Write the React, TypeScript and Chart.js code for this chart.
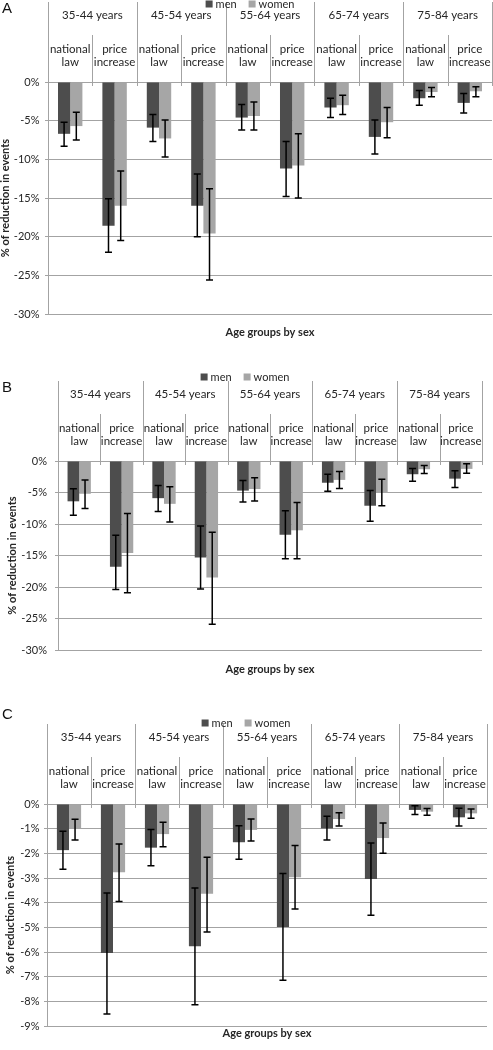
import React, { useEffect, useRef } from 'react';
import { Chart, registerables } from 'chart.js';

Chart.register(...registerables);

// ---------- DATA ----------
const ageGroups = ['35-44 years', '45-54 years', '55-64 years', '65-74 years', '75-84 years'];
const measureLines = [['national', 'law'], ['price', 'increase']];
const categories = ageGroups.flatMap((g) => measureLines.map((m) => `${g} ${m.join(' ')}`));
const seriesNames = ['men', 'women'];

// Panel A (% of reduction in events)
const menA = [-6.7, -18.6, -5.9, -16.0, -4.6, -11.2, -3.3, -7.1, -2.1, -2.7];
const menALow = [-8.3, -22.0, -7.7, -20.0, -6.2, -14.8, -4.6, -9.3, -3.0, -4.0];
const menAHigh = [-5.2, -15.1, -4.2, -11.9, -2.9, -7.7, -2.1, -4.9, -1.1, -1.5];
const womenA = [-5.7, -16.0, -7.3, -19.6, -4.4, -10.8, -3.0, -5.2, -1.3, -1.2];
const womenALow = [-7.5, -20.5, -9.7, -25.6, -6.2, -15.0, -4.2, -7.2, -1.9, -1.9];
const womenAHigh = [-3.9, -11.5, -4.9, -13.8, -2.6, -6.7, -1.7, -3.3, -0.7, -0.6];

// Panel B
const menB = [-6.4, -16.8, -5.9, -15.3, -4.7, -11.7, -3.45, -7.1, -2.1, -2.8];
const menBLow = [-8.6, -20.4, -8.0, -20.3, -6.5, -15.5, -4.8, -9.55, -3.2, -4.2];
const menBHigh = [-4.4, -11.8, -3.9, -10.3, -3.1, -7.9, -2.1, -4.7, -1.2, -1.55];
const womenB = [-5.2, -14.6, -6.8, -18.5, -4.45, -11.0, -3.0, -5.0, -1.3, -1.25];
const womenBLow = [-7.55, -20.9, -9.7, -25.9, -6.35, -15.5, -4.35, -7.1, -2.0, -1.95];
const womenBHigh = [-3.0, -8.35, -4.1, -11.3, -2.65, -6.6, -1.65, -2.9, -0.7, -0.45];

// Panel C
const menC = [-1.87, -6.04, -1.77, -5.77, -1.55, -4.99, -0.99, -3.04, -0.24, -0.54];
const menCLow = [-2.65, -8.51, -2.5, -8.14, -2.24, -7.15, -1.46, -4.51, -0.43, -0.89];
const menCHigh = [-1.1, -3.61, -1.03, -3.41, -0.88, -2.82, -0.5, -1.58, -0.07, -0.17];
const womenC = [-0.99, -2.77, -1.22, -3.64, -1.05, -2.97, -0.61, -1.38, -0.31, -0.38];
const womenCLow = [-1.46, -3.95, -1.73, -5.19, -1.5, -4.26, -0.89, -2.0, -0.46, -0.58];
const womenCHigh = [-0.62, -1.62, -0.74, -2.16, -0.61, -1.68, -0.35, -0.77, -0.18, -0.2];

const yTitle = '% of reduction in events';
const xTitle = 'Age groups by sex';

// ---------- STYLE / LAYOUT ----------
const MEN_COLOR = '#4d4d4d';
const WOMEN_COLOR = '#a6a6a6';
const GRID_COLOR = '#a3a3a3';
const TEXT_COLOR = '#262626';
const FONT = 'Lato, "Open Sans", sans-serif';

type PanelCfg = {
  letter: string;
  men: number[]; menLow: number[]; menHigh: number[];
  women: number[]; womenLow: number[]; womenHigh: number[];
  yMin: number; yStep: number;
  top: number; height: number; plotTop: number; xbHeight: number;
  yWidth: number; rightPad: number; tickPad: number; yTitlePad: number;
  legendDy: number; legendCx: number; letterTop: number;
};

const panels: PanelCfg[] = [
  {
    letter: 'A', men: menA, menLow: menALow, menHigh: menAHigh,
    women: womenA, womenLow: womenALow, womenHigh: womenAHigh,
    yMin: -30, yStep: 5,
    top: 0, height: 345, plotTop: 82, xbHeight: 31,
    yWidth: 48, rightPad: 1, tickPad: 5.5, yTitlePad: -1.6,
    legendDy: -78, legendCx: 250, letterTop: 0,
  },
  {
    letter: 'B', men: menB, menLow: menBLow, menHigh: menBHigh,
    women: womenB, womenLow: womenBLow, womenHigh: womenBHigh,
    yMin: -30, yStep: 5,
    top: 350, height: 332, plotTop: 111, xbHeight: 32,
    yWidth: 58, rightPad: 11, tickPad: 8, yTitlePad: 5.9,
    legendDy: -84, legendCx: 245, letterTop: 379,
  },
  {
    letter: 'C', men: menC, menLow: menCLow, menHigh: menCHigh,
    women: womenC, womenLow: womenCLow, womenHigh: womenCHigh,
    yMin: -9, yStep: 1,
    top: 700, height: 346, plotTop: 104, xbHeight: 20,
    yWidth: 47, rightPad: 6, tickPad: 4.5, yTitlePad: 4.2,
    legendDy: -81, legendCx: 246, letterTop: 706,
  },
];

// ---------- PLUGINS ----------
const headerPlugin = {
  id: 'header',
  afterDraw(chart: any, _args: any, opts: any) {
    const { ctx, chartArea } = chart;
    const { left, right, top } = chartArea;
    const xs = chart.scales.x;
    const n = chart.data.labels.length;
    const catW = (right - left) / n;
    ctx.save();
    // separator lines
    ctx.strokeStyle = GRID_COLOR;
    ctx.lineWidth = 1;
    for (let i = 0; i <= n; i++) {
      const px = Math.round(left + i * catW) + 0.5;
      const y0 = i % 2 === 0 ? top - 80 : top - 47;
      ctx.beginPath();
      ctx.moveTo(px, y0);
      ctx.lineTo(px, top + 4);
      ctx.stroke();
    }
    // text
    ctx.fillStyle = TEXT_COLOR;
    ctx.textAlign = 'center';
    ctx.textBaseline = 'middle';
    ctx.font = `11.5px ${FONT}`;
    ageGroups.forEach((g, k) => {
      const cx = (xs.getPixelForValue(2 * k) + xs.getPixelForValue(2 * k + 1)) / 2;
      ctx.fillText(g, cx, top - 66.5);
    });
    for (let i = 0; i < n; i++) {
      const cx = xs.getPixelForValue(i);
      const lines = measureLines[i % 2];
      ctx.fillText(lines[0], cx, top - 33);
      ctx.fillText(lines[1], cx, top - 19.5);
    }
    // legend
    ctx.font = `11px ${FONT}`;
    const items = chart.data.datasets.map((d: any) => ({ label: d.label, color: d.backgroundColor }));
    const box = 7, gap = 3, sep = 12;
    const widths = items.map((it: any) => box + gap + ctx.measureText(it.label).width);
    const total = widths.reduce((a: number, b: number) => a + b, 0) + sep * (items.length - 1);
    let x = opts.legendCx - total / 2;
    const ly = top + opts.legendDy;
    ctx.textAlign = 'left';
    items.forEach((it: any, k: number) => {
      ctx.fillStyle = it.color;
      ctx.fillRect(x, ly - box / 2, box, box);
      ctx.fillStyle = TEXT_COLOR;
      ctx.fillText(it.label, x + box + gap, ly + 0.5);
      x += widths[k] + sep;
    });
    ctx.restore();
  },
};

const errorBarPlugin = {
  id: 'errorBars',
  afterDatasetsDraw(chart: any) {
    const { ctx } = chart;
    const ys = chart.scales.y;
    ctx.save();
    ctx.strokeStyle = '#000';
    chart.data.datasets.forEach((ds: any, di: number) => {
      const meta = chart.getDatasetMeta(di);
      meta.data.forEach((bar: any, i: number) => {
        const y1 = ys.getPixelForValue(ds.errLow[i]);
        const y2 = ys.getPixelForValue(ds.errHigh[i]);
        const x = bar.x;
        ctx.lineWidth = 1.5;
        ctx.beginPath();
        ctx.moveTo(x, y1);
        ctx.lineTo(x, y2);
        ctx.stroke();
        ctx.lineWidth = 1.5;
        ctx.beginPath();
        ctx.moveTo(x - 3.5, y1);
        ctx.lineTo(x + 3.5, y1);
        ctx.moveTo(x - 3.5, y2);
        ctx.lineTo(x + 3.5, y2);
        ctx.stroke();
      });
    });
    ctx.restore();
  },
};

// ---------- COMPONENTS ----------
function Panel({ cfg }: { cfg: PanelCfg }) {
  const ref = useRef<HTMLCanvasElement | null>(null);
  useEffect(() => {
    if (!ref.current) return;
    const chart = new Chart(ref.current, {
      type: 'bar',
      data: {
        labels: categories,
        datasets: [
          {
            label: seriesNames[0], data: cfg.men, backgroundColor: MEN_COLOR,
            errLow: cfg.menLow, errHigh: cfg.menHigh,
            categoryPercentage: 0.55, barPercentage: 1, borderWidth: 0,
          } as any,
          {
            label: seriesNames[1], data: cfg.women, backgroundColor: WOMEN_COLOR,
            errLow: cfg.womenLow, errHigh: cfg.womenHigh,
            categoryPercentage: 0.55, barPercentage: 1, borderWidth: 0,
          } as any,
        ],
      },
      options: {
        responsive: false,
        animation: false,
        devicePixelRatio: 1,
        layout: { padding: { left: 0, right: cfg.rightPad, top: 0, bottom: 0 } },
        plugins: {
          legend: { display: false },
          tooltip: { enabled: false },
          header: { legendDy: cfg.legendDy, legendCx: cfg.legendCx },
        } as any,
        scales: {
          x: {
            type: 'category',
            position: 'top',
            offset: true,
            ticks: { display: false },
            grid: { display: false },
            border: { display: false },
            afterFit: (s: any) => { s.height = cfg.plotTop; },
          },
          xb: {
            type: 'category',
            axis: 'x',
            position: 'bottom',
            offset: true,
            ticks: { display: false },
            grid: { display: false },
            border: { display: false },
            title: {
              display: true, text: xTitle, color: TEXT_COLOR,
              font: { family: FONT, size: 11, weight: 'bold' },
              padding: { top: 0, bottom: 6.4 },
            },
            afterFit: (s: any) => { s.height = cfg.xbHeight; },
          },
          y: {
            type: 'linear',
            min: cfg.yMin,
            max: 0,
            ticks: {
              stepSize: cfg.yStep,
              color: TEXT_COLOR,
              font: { family: FONT, size: 11 },
              padding: cfg.tickPad,
              callback: (v: any) => `${v}%`,
            },
            grid: { color: GRID_COLOR, lineWidth: 1, tickLength: 3 },
            border: { display: true, color: GRID_COLOR, width: 1 },
            title: {
              display: true, text: yTitle, color: TEXT_COLOR,
              font: { family: FONT, size: 11, weight: 'bold' },
              padding: { top: cfg.yTitlePad, bottom: 0 },
            },
            afterFit: (s: any) => { s.width = cfg.yWidth; },
          },
        } as any,
      },
      plugins: [headerPlugin, errorBarPlugin],
    } as any);
    return () => chart.destroy();
  }, [cfg]);
  return (
    <canvas
      ref={ref}
      width={493}
      height={cfg.height}
      style={{ position: 'absolute', left: 0, top: cfg.top, width: 493, height: cfg.height }}
    />
  );
}

export default function App() {
  return (
    <div style={{ position: 'absolute', left: 0, top: 0, width: 493, height: 1050, background: '#fff', overflow: 'hidden' }}>
      {panels.map((p) => (
        <Panel key={p.letter} cfg={p} />
      ))}
      {panels.map((p) => (
        <div
          key={'l' + p.letter}
          style={{
            position: 'absolute', left: 2, top: p.letterTop,
            font: '15px "Liberation Sans", Arial, sans-serif', lineHeight: '15px', color: '#111',
          }}
        >
          {p.letter}
        </div>
      ))}
    </div>
  );
}
